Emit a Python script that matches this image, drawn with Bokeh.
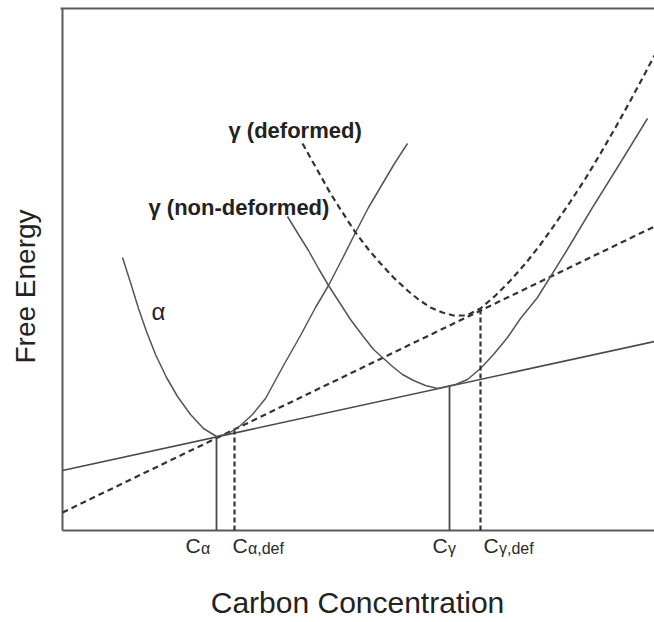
from bokeh.plotting import figure
from bokeh.models import Range1d, LinearAxis, FixedTicker
from bokeh.core.properties import value
from bokeh.embed import file_html
from bokeh.resources import INLINE

# ---- data (arbitrary units: carbon concentration vs free energy) ----
alpha_x = [6.0, 6.8, 7.6, 8.4, 9.3, 10.4, 11.5, 12.8, 14.1, 15.4, 16.6, 17.8, 19.0,
           20.3, 22.1, 23.8, 25.3, 26.6, 28.0, 29.3, 30.6, 31.9, 33.2, 34.5]
alpha_y = [27.3, 24.8, 22.2, 19.9, 17.6, 15.3, 13.4, 11.6, 10.2, 9.4, 9.7, 10.5, 11.6,
           13.2, 16.5, 19.5, 22.3, 24.5, 27.2, 29.8, 32.3, 34.5, 36.7, 38.7]

gamma_x = [22.5, 23.6, 24.6, 25.6, 26.6, 27.7, 28.8, 30.0, 31.1, 32.0, 33.0, 34.0, 35.1,
           36.3, 37.5, 38.4, 39.3, 40.5, 41.8, 43.1, 44.5, 45.8, 47.5, 50.3, 53.0, 55.8, 58.5]
gamma_y = [31.4, 29.6, 28.0, 26.2, 24.5, 22.8, 21.1, 19.5, 18.1, 17.3, 16.4, 15.6, 15.0,
           14.5, 14.2, 14.4, 14.6, 15.1, 16.2, 17.6, 19.3, 21.2, 23.3, 27.8, 32.3, 36.8, 41.2]

gdef_x = [24.0, 25.4, 26.8, 28.0, 29.3, 30.6, 31.8, 33.1, 34.5, 35.6, 36.8, 38.0, 39.1,
          40.4, 41.8, 43.3, 44.8, 46.3, 47.8, 49.3, 50.8, 52.3, 53.8, 55.3, 56.8, 58.3, 59.2]
gdef_y = [38.7, 36.2, 33.7, 31.8, 29.8, 28.1, 26.7, 25.3, 24.0, 23.1, 22.3, 21.8, 21.5,
          21.5, 22.2, 23.5, 25.0, 26.7, 28.6, 30.7, 32.9, 35.2, 37.7, 40.3, 43.0, 45.8, 47.5]

tangent_x = [0.0, 59.2]
tangent_y = [6.0, 18.9]        # common tangent, non-deformed
tangent_def_y = [1.8, 30.4]    # common tangent, deformed

tick_sub = ["α", "α,def", "γ", "γ,def"]
tick_x = [15.4, 17.2, 38.7, 41.8]
tick_top = [9.4, 10.0, 14.4, 22.0]
tick_dashed = [False, True, False, True]

X_MAX = 59.2
Y_MAX = 52.2

FONT = "Liberation Sans"
AXC = "#5a5a5a"

p = figure(width=654, height=622, x_range=Range1d(-0.2, X_MAX), y_range=Range1d(-3.4, Y_MAX),
           min_border_left=60, min_border_right=0, min_border_top=8, min_border_bottom=58,
           output_backend="svg", toolbar_location=None,
           x_axis_label="Carbon Concentration", y_axis_label="Free Energy")
p.grid.visible = False
p.outline_line_color = None
p.background_fill_color = "white"
p.border_fill_color = "white"

for ax in (p.xaxis[0], p.yaxis[0]):
    ax.ticker = FixedTicker(ticks=[])
    ax.major_tick_out = 0
    ax.major_tick_in = 0
    ax.minor_tick_out = 0
    ax.minor_tick_in = 0
    ax.major_label_standoff = 0
    ax.axis_line_color = None
    ax.axis_label_text_font = FONT
    ax.axis_label_text_font_style = "normal"
    ax.axis_label_text_color = "#222222"

p.xaxis[0].axis_label_text_font_size = "30px"
p.xaxis[0].axis_label_standoff = 21
p.yaxis[0].axis_label_text_font_size = "28px"
p.yaxis[0].axis_label_standoff = 20

top = LinearAxis(ticker=FixedTicker(ticks=[]), major_tick_out=0, major_tick_in=0,
                 minor_tick_out=0, minor_tick_in=0, axis_line_color=AXC, axis_line_width=2)
p.add_layout(top, "above")

# frame spines (left and bottom) at the origin of the diagram
p.line([0, 0], [0, Y_MAX], line_color=AXC, line_width=2)
p.line([0, X_MAX], [0, 0], line_color=AXC, line_width=2)

# tangents
p.line(tangent_x, tangent_y, line_color="#4a4a4a", line_width=1.6)
p.line(tangent_x, tangent_def_y, line_color="#333333", line_width=2.2, line_dash="6 4")

# free energy curves
p.line(alpha_x, alpha_y, line_color="#555555", line_width=1.5)
p.line(gamma_x, gamma_y, line_color="#555555", line_width=1.5)
p.line(gdef_x, gdef_y, line_color="#333333", line_width=2.2, line_dash="6 4")

# vertical drop lines
for x, t, d in zip(tick_x, tick_top, tick_dashed):
    if d:
        p.segment(x0=[x], y0=[0], x1=[x], y1=[t], line_color="#333333", line_width=2.2, line_dash="5 3")
    else:
        p.segment(x0=[x], y0=[0], x1=[x], y1=[t], line_color="#4a4a4a", line_width=1.8)

# tick labels with subscripts (placed just below the concentration axis)
c_off = [-31, -2, -17, 3]
n = len(tick_x)
p.text(x=tick_x, y=[0] * n, text=["C"] * n, x_offset=c_off, y_offset=[15] * n,
       text_font=value(FONT), text_font_size=value("21px"), text_color="#2a2a2a",
       text_baseline="middle", text_align="left")
p.text(x=tick_x, y=[0] * n, text=tick_sub, x_offset=[o + 15.5 for o in c_off], y_offset=[18] * n,
       text_font=value(FONT), text_font_size=value("16px"), text_color="#2a2a2a",
       text_baseline="middle", text_align="left")

# curve labels
p.text(x=[16.6], y=[40.0], text=["γ (deformed)"], text_font=value(FONT),
       text_font_size=value("22px"), text_font_style="bold", text_color="#222222",
       text_baseline="middle", text_align="left")
p.text(x=[8.6], y=[32.3], text=["γ (non-deformed)"], text_font=value(FONT),
       text_font_size=value("22px"), text_font_style="bold", text_color="#222222",
       text_baseline="middle", text_align="left")
p.text(x=[9.6], y=[21.9], text=["α"], text_font=value(FONT),
       text_font_size=value("24px"), text_color="#222222",
       text_baseline="middle", text_align="center")

open("out.html", "w").write(file_html(p, INLINE))
